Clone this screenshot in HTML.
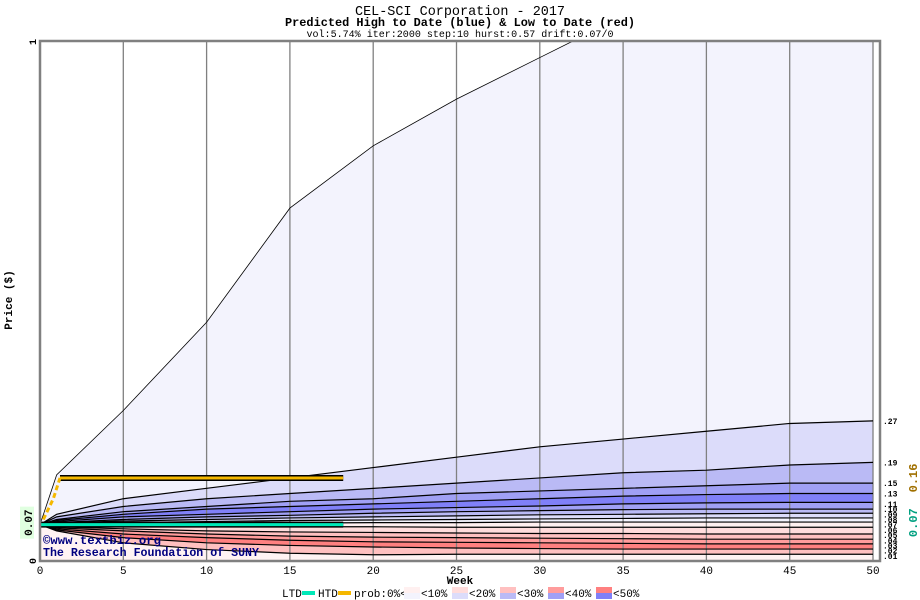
<!DOCTYPE html>
<html><head><meta charset="utf-8"><style>
body{margin:0;background:#fff;font-family:"Liberation Mono",monospace;}
svg{display:block}
</style></head><body>
<svg id="chart" width="920" height="600" xmlns="http://www.w3.org/2000/svg">
<defs><clipPath id="plotclip"><rect x="40" y="41" width="840" height="520"/></clipPath></defs>
<text x="460" y="15" text-anchor="middle" font-size="14" textLength="210" lengthAdjust="spacingAndGlyphs" font-family="Liberation Mono,monospace">CEL-SCI Corporation - 2017</text>
<text x="460" y="26" text-anchor="middle" font-size="12" font-weight="bold" textLength="350" lengthAdjust="spacingAndGlyphs" font-family="Liberation Mono,monospace">Predicted High to Date (blue) &amp;  Low to Date (red)</text>
<text x="460" y="37" text-anchor="middle" font-size="10" textLength="307" lengthAdjust="spacingAndGlyphs" font-family="Liberation Mono,monospace">vol:5.74% iter:2000 step:10 hurst:0.57 drift:0.07/0</text>
<g clip-path="url(#plotclip)">
<g id="bands"></g>
<g id="grid"></g>
<g id="lines"></g>
</g>
<g id="marks"></g>
<g id="axes"></g>
<text x="43" y="544" font-size="12" font-weight="bold" fill="#000080" textLength="118" lengthAdjust="spacingAndGlyphs" font-family="Liberation Mono,monospace">©www.textbiz.org</text>
<text x="43" y="556" font-size="12" font-weight="bold" fill="#000080" textLength="216" lengthAdjust="spacingAndGlyphs" font-family="Liberation Mono,monospace">The Research Foundation of SUNY</text>
<text x="460" y="584" text-anchor="middle" font-size="11" font-weight="bold" font-family="Liberation Mono,monospace">Week</text>
<text transform="translate(12,300) rotate(-90)" text-anchor="middle" font-size="11" font-weight="bold" font-family="Liberation Mono,monospace">Price ($)</text>
<g id="legend"></g>
</svg>
<script>
const weeks=[0,1,5,10,15,20,25,30,35,40,45,50];
const qMax=[0.07,0.166,0.29,0.46,0.68,0.80,0.89,0.97,1.05,1.1,1.15,1.2];
const q1=[0.07,0.09,0.12,0.14,0.16,0.18,0.20,0.22,0.235,0.25,0.265,0.27];
const q2=[0.07,0.085,0.105,0.12,0.13,0.14,0.15,0.16,0.17,0.175,0.185,0.19];
const q3=[0.07,0.08,0.095,0.105,0.115,0.12,0.13,0.135,0.14,0.145,0.15,0.15];
const q4=[0.07,0.078,0.09,0.10,0.105,0.11,0.115,0.12,0.125,0.128,0.13,0.13];
const q5=[0.07,0.076,0.085,0.09,0.095,0.10,0.103,0.106,0.11,0.112,0.113,0.113];
const q6=[0.07,0.074,0.08,0.085,0.088,0.092,0.095,0.097,0.099,0.10,0.10,0.10];
const q7=[0.07,0.073,0.077,0.08,0.083,0.085,0.087,0.089,0.09,0.091,0.092,0.092];
const q8=[0.07,0.072,0.074,0.076,0.078,0.079,0.08,0.081,0.082,0.083,0.083,0.083];
const q9=[0.07,0.071,0.072,0.073,0.073,0.074,0.074,0.075,0.075,0.075,0.075,0.075];
const q10=[0.07,0.068,0.067,0.066,0.066,0.066,0.065,0.065,0.065,0.065,0.065,0.065];
const q11=[0.07,0.066,0.062,0.058,0.056,0.055,0.054,0.053,0.053,0.052,0.052,0.052];
const q12=[0.07,0.064,0.058,0.052,0.048,0.046,0.045,0.044,0.043,0.042,0.042,0.042];
const q13=[0.07,0.062,0.052,0.045,0.04,0.037,0.036,0.035,0.034,0.033,0.033,0.033];
const q14=[0.07,0.06,0.045,0.035,0.03,0.027,0.025,0.024,0.023,0.023,0.023,0.023];
const q15=[0.07,0.058,0.035,0.022,0.015,0.012,0.013,0.013,0.013,0.013,0.013,0.013];
const xTicks=[0,5,10,15,20,25,30,35,40,45,50];
const rightLabels=[0.27,0.19,0.15,0.13,0.11,0.10,0.09,0.08,0.07,0.06,0.05,0.04,0.03,0.02,0.01];
const htdValue=0.16, ltdValue=0.07, htdEnd=18.2, htdStart=1.2;
const legendItems=["<10%","<20%","<30%","<40%","<50%"];

const NS="http://www.w3.org/2000/svg";
const X0=40,X1=880,Y0=561,Y1=42;
const xs=w=>X0+w*(873-X0)/50;
const ys=p=>Y0-Math.min(p,1.3)*(Y0-Y1);
function mk(t,a,parent){const e=document.createElementNS(NS,t);for(const k in a)e.setAttribute(k,a[k]);document.getElementById(parent).appendChild(e);return e;}
const curves=[qMax,q1,q2,q3,q4,q5,q6,q7,q8,q9,q10,q11,q12,q13,q14,q15];
const colors=["#f3f3fd","#dcdcfa","#babaf5","#a0a0f5","#8080f8","#a0a0f5","#babaf5","#dcdcfa","#f3f3fd","#fff0f0","#ffdcdc","#ffc0c0","#ff9c9c","#ff8080","#ffc0c0","#fff3f3"];
function pts(c){return weeks.map((w,i)=>xs(w)+","+ys(c[i]));}
const bg=mk("rect",{x:X0,y:Y1,width:X1-X0,height:Y0-Y1,fill:"#ffffff"},"bands");


for(let i=0;i<curves.length;i++){
  const upper=pts(curves[i]);
  const lower=i+1<curves.length?pts(curves[i+1]).reverse():[xs(50)+","+Y0,xs(0)+","+Y0];
  const p=mk("polygon",{points:upper.concat(lower).join(" "),fill:colors[i]},"bands");
  
  
}
for(const t of xTicks){
  if(t===0)continue;
  const l=mk("line",{x1:xs(t),x2:xs(t),y1:Y1,y2:Y0,stroke:"#808080","stroke-width":1.3},"grid");
  
  
}
curves.forEach((c,i)=>{
  const l=mk("polyline",{points:pts(c).join(" "),fill:"none",stroke:"#000","stroke-width":i===0?0.8:1.2},"lines");
  
  
});
let h=mk("line",{x1:xs(htdStart),x2:xs(htdEnd),y1:ys(htdValue),y2:ys(htdValue),stroke:"#000","stroke-width":6},"marks");

h=mk("line",{x1:xs(htdStart),x2:xs(htdEnd),y1:ys(htdValue),y2:ys(htdValue),stroke:"#f5b800","stroke-width":3},"marks");

h=mk("polyline",{points:[xs(0.2)+","+ys(0.08),xs(0.8)+","+ys(0.12),xs(htdStart)+","+ys(htdValue)].join(" "),fill:"none",stroke:"#f5b800","stroke-width":3,"stroke-dasharray":"5,3"},"marks");

let lt=mk("line",{x1:xs(0),x2:xs(htdEnd),y1:ys(ltdValue),y2:ys(ltdValue),stroke:"#000","stroke-width":6},"marks");

lt=mk("line",{x1:xs(0),x2:xs(htdEnd),y1:ys(ltdValue),y2:ys(ltdValue),stroke:"#00e8b8","stroke-width":3},"marks");

const fr=mk("rect",{x:X0,y:Y1-1,width:X1-X0,height:Y0-Y1+1,fill:"none",stroke:"#808080","stroke-width":2.5},"axes");

for(const t of xTicks){
  const tx=mk("text",{x:xs(t),y:574,"text-anchor":"middle","font-size":11,"font-family":"Liberation Mono,monospace"},"axes");
  tx.textContent=t;
  
}
function rot(x,y,txt,fill,size,name,bgc){
  if(bgc){const r=mk("rect",{x:x-12,y:y-16,width:14,height:32,fill:bgc},"axes");}
  const t=mk("text",{transform:`translate(${x},${y}) rotate(-90)`,"text-anchor":"middle","font-size":size,"font-weight":"bold",fill:fill,"font-family":"Liberation Mono,monospace"},"axes");
  t.textContent=txt;
}
rot(36,ys(1),"1","#000",10,"y-tick-1");
rot(36,ys(0),"0","#000",10,"y-tick-0");
rot(32,ys(ltdValue)-2,"0.07","#000",11,"y-current-price","#e0ffe0");
rot(917,ys(htdValue),htdValue.toFixed(2),"#a07000",12,"htd-value-label");
rot(917,ys(ltdValue)-2,ltdValue.toFixed(2),"#00a080",12,"ltd-value-label");
rightLabels.forEach(v=>{
  const yv=v>=0.11?ys(v):ys(0.11)+ (0.11-v)/0.10*52;
  const t=mk("text",{x:883,y:yv+3,"font-size":8,"font-weight":"bold","font-family":"Liberation Mono,monospace"},"axes");
  t.textContent=v.toFixed(2).replace(/^0/,"");
  
});
function lt2(x,txt,name){const t=mk("text",{x:x,y:597,"font-size":11,"font-family":"Liberation Mono,monospace"},"legend");t.textContent=txt;}
lt2(282,"LTD","legend-ltd-label");
let r=mk("rect",{x:302,y:591,width:13,height:4,fill:"#00e8b8"},"legend");
lt2(318,"HTD","legend-htd-label");
r=mk("rect",{x:338,y:591,width:13,height:4,fill:"#f5b800"},"legend");
lt2(354,"prob:0%<","legend-prob-label");
const lr=["#fff0f0","#ffdcdc","#ffc0c0","#ff9c9c","#ff8080"],lb=["#f3f3fd","#dcdcfa","#babaf5","#a0a0f5","#8080f8"];
legendItems.forEach((s,i)=>{
  const x=404+i*48;
  let a=mk("rect",{x:x,y:587,width:16,height:6,fill:lr[i]},"legend");
  a=mk("rect",{x:x,y:593,width:16,height:6,fill:lb[i]},"legend");
  lt2(x+17,s,'legend-entry');
});
</script>
</body></html>
